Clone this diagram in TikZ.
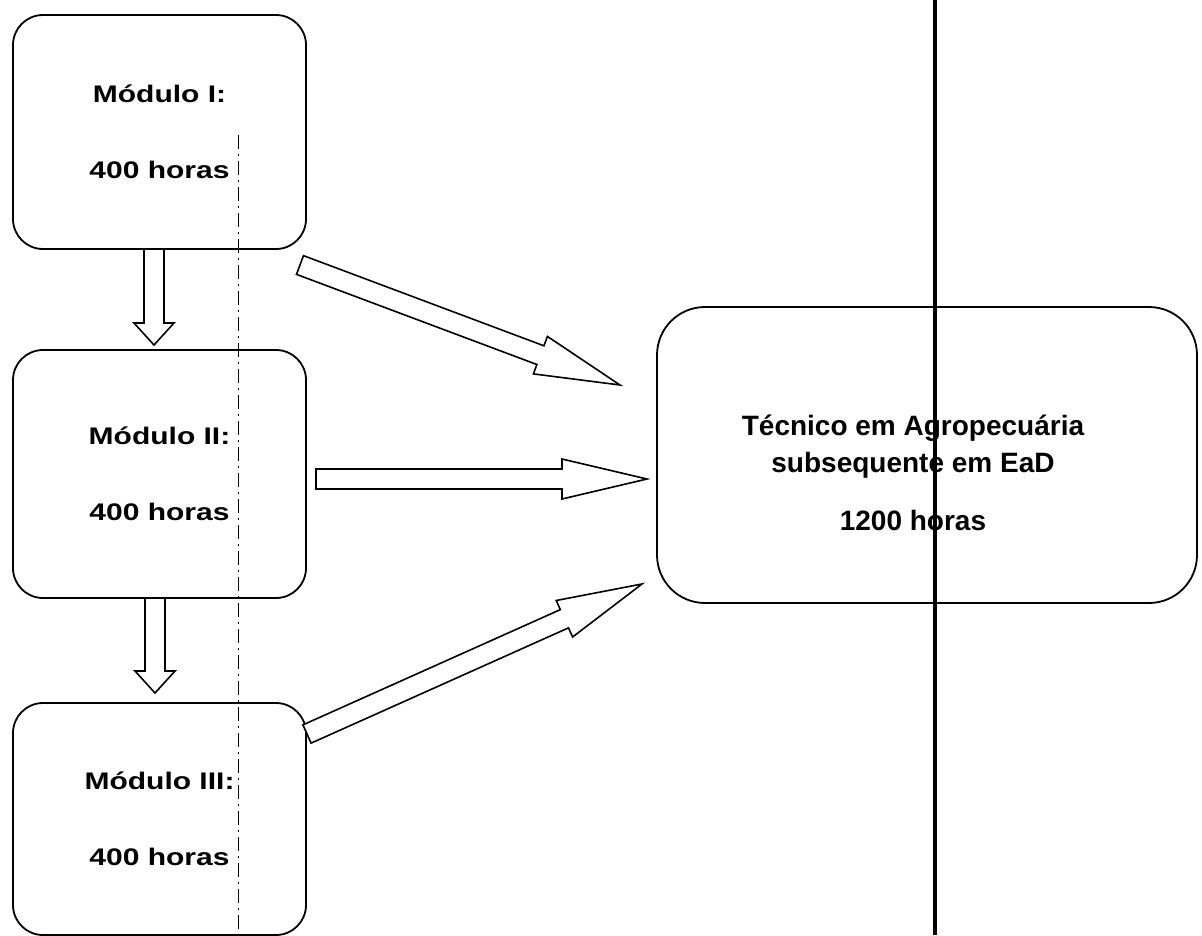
\documentclass[tikz,border=0pt]{standalone}
\usepackage{fontspec}
\setmainfont{Liberation Sans}
\newfontfamily\modfont[FakeStretch=1.25]{Liberation Sans}
\usetikzlibrary{calc}

\def\shaftw{10pt}
\def\headw{20pt}

% hollow block arrow: tail, tip, head length
\newcommand{\blockarrow}[3]{%
  \path ($(#2)!#3!(#1)$) coordinate (hb);
  \draw[hollow arrow] ($(#1)!\shaftw!90:(#2)$) -- ($(hb)!\shaftw!-90:(#1)$)
    -- ($(hb)!\headw!-90:(#1)$) -- (#2) -- ($(hb)!\headw!90:(#1)$)
    -- ($(hb)!\shaftw!90:(#1)$) -- ($(#1)!\shaftw!-90:(#2)$) -- cycle;}

\begin{document}
\begin{tikzpicture}[x=1pt,y=-1pt]
    \tikzstyle{modbox}=[draw, rounded corners=30pt, line width=1.8pt, minimum width=293pt,
        align=center, font=\modfont\bfseries\fontsize{24}{76}\selectfont]
    \tikzstyle{bigbox}=[draw, rounded corners=48pt, line width=1.8pt]
    \tikzstyle{bigtext}=[align=center, font=\bfseries\fontsize{28}{37}\selectfont]
    \tikzstyle{hollow arrow}=[draw, fill=white, line width=1.6pt, line join=miter]
    \tikzstyle{scanline}=[line width=1pt, dash pattern=on 14pt off 5pt on 2pt off 5pt]

    \useasboundingbox (0,0) rectangle (1202,935);

    % the three modules
    \node[modbox, minimum height=234pt] (m1) at (159.5,132) {Módulo I:\\400 horas};
    \node[modbox, minimum height=248pt] (m2) at (159.5,474) {Módulo II:\\400 horas};
    \node[modbox, minimum height=232pt] (m3) at (159.5,819) {Módulo III:\\400 horas};

    % the course
    \node[bigbox, minimum width=540pt, minimum height=296pt] (tec) at (927,455) {};
    \node[bigtext] (tec-txt) at (913,473)
        {Técnico em Agropecuária\\subsequente em EaD\\[21pt]1200 horas};

    % arrow ends
    \coordinate (d1-tail) at (154,249);
    \coordinate (d1-tip) at (154,345);
    \coordinate (d2-tail) at (155,598);
    \coordinate (d2-tip) at (155,693);
    \coordinate (r1-tail) at (300,265);
    \coordinate (r1-tip) at (620,385);
    \coordinate (r2-tail) at (316,479);
    \coordinate (r2-tip) at (647,479);
    \coordinate (r3-tail) at (307,734);
    \coordinate (r3-tip) at (642,584);

    % down arrows between modules
    \blockarrow{d1-tail}{d1-tip}{22pt}
    \blockarrow{d2-tail}{d2-tip}{22pt}

    % arrows to the course
    \foreach \name in {r1,r2,r3}
        {\blockarrow{\name-tail}{\name-tip}{85pt}}

    % fold lines of the scanned page
    \draw[scanline] (238,135) -- (238,935);
    \draw[line width=3.5pt] (935,0) -- (935,935);
\end{tikzpicture}
\end{document}
